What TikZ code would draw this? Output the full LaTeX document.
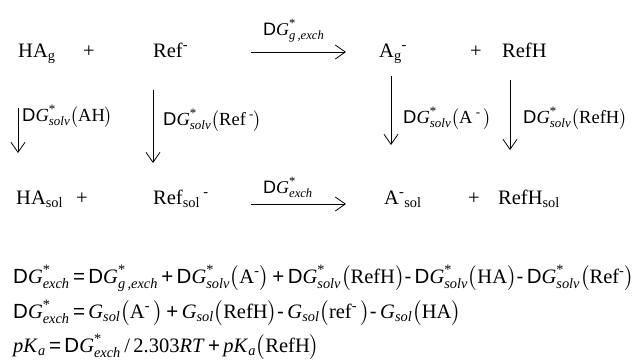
\documentclass[tikz,border=0pt]{standalone}
\usepackage{amsmath}
\usepackage{fontspec}
\setmainfont{Liberation Serif}
\setsansfont{Liberation Sans}
\usetikzlibrary{arrows.meta}
\newcommand{\Gst}[1]{\ensuremath{\textit{G}^{\text{*}}_{\text{\itshape #1}}}}
\newcommand{\dGst}[1]{\textsf{D}\Gst{#1}}
\newcommand{\Gsl}{\ensuremath{\textit{G}_{\text{\itshape sol}}}}
\newcommand{\pr}[1]{\ensuremath{\bigl(\text{#1}\bigr)}}
\newcommand{\op}[1]{\,\textsf{#1}\,}
\tikzset{
  cyc species/.style={
    anchor=base west,
    inner sep=0pt,
    font=\fontsize{20.5}{24}\selectfont
  },
  cyc plus/.style={
    anchor=base,
    inner sep=0pt,
    font=\fontsize{20.5}{24}\selectfont
  },
  cyc lbl/.style={
    anchor=west,
    inner sep=0pt,
    font=\fontsize{18.5}{22}\selectfont
  },
  cyc xlbl/.style={
    anchor=base west,
    inner sep=0pt,
    font=\fontsize{18}{22}\selectfont
  },
  cyc eqn/.style={
    anchor=base west,
    inner sep=0pt,
    font=\fontsize{20.5}{24}\selectfont
  },
  cyc arr/.style={-{Straight Barb[length=10pt,width=14pt]}, line width=0.8pt}
}

\begin{document}
\begin{tikzpicture}[x=1pt, y=-1pt]
  \useasboundingbox (0,0) rectangle (636,360);

  % gas phase
  \node[cyc species] (hag) at (18,57) {HA\textsubscript{g}};
  \node[cyc plus] (plusga) at (89,57) {+};
  \node[cyc species] (refg) at (153,57) {Ref\textsuperscript{-}};
  \node[cyc species] (ag) at (379,57) {A\textsubscript{g}\textsuperscript{-}};
  \node[cyc plus] (plusgb) at (476,57) {+};
  \node[cyc species] (refhg) at (502,57) {RefH};

  \coordinate (gxa) at (251,52);
  \coordinate (gxb) at (346,52);
  \draw[cyc arr] (gxa) -- (gxb);
  \node[cyc xlbl] (gxlbl) at (263,35) {\dGst{g\,,exch}};

  % solvation legs
  \coordinate (sva) at (18,108);
  \coordinate (svb) at (18,153);
  \draw[cyc arr] (sva) -- (svb);
  \node[cyc lbl] (svlbl) at (22,116) {\dGst{solv}\pr{AH}};

  \coordinate (rfa) at (153,90);
  \coordinate (rfb) at (153,163);
  \draw[cyc arr] (rfa) -- (rfb);
  \node[cyc lbl] (rflbl) at (163,120) {\dGst{solv}\pr{Ref\textsuperscript{ -}}};

  \coordinate (ana) at (391,76);
  \coordinate (anb) at (391,145);
  \draw[cyc arr] (ana) -- (anb);
  \node[cyc lbl] (anlbl) at (403,118) {\dGst{solv}\pr{A\textsuperscript{ -}\,}};

  \coordinate (rha) at (510,80);
  \coordinate (rhb) at (510,150);
  \draw[cyc arr] (rha) -- (rhb);
  \node[cyc lbl] (rhlbl) at (523,118) {\dGst{solv}\pr{RefH}};

  % solution phase
  \node[cyc species] (hasol) at (16,204) {HA\textsubscript{sol}};
  \node[cyc plus] (plussa) at (82,204) {+};
  \node[cyc species] (refsol) at (153,204) {Ref\textsubscript{sol}\,\textsuperscript{-}};
  \node[cyc species] (asol) at (384,204) {A\textsuperscript{-}\textsubscript{sol}};
  \node[cyc plus] (plussb) at (474,204) {+};
  \node[cyc species] (refhsol) at (498,204) {RefH\textsubscript{sol}};

  \coordinate (sxa) at (251,204);
  \coordinate (sxb) at (346,204);
  \draw[cyc arr] (sxa) -- (sxb);
  \node[cyc xlbl] (sxlbl) at (263,193) {\dGst{exch}};

  % exchange relations
  \node[cyc eqn] (eqa) at (13,283)
    {\dGst{exch}\op{=}\dGst{g\,,exch}\op{+}\dGst{solv}\pr{A\textsuperscript{-}}\op{+}\dGst{solv}\pr{RefH}\textsf{-}\,\dGst{solv}\pr{HA}\textsf{-}\,\dGst{solv}\pr{Ref\textsuperscript{-}}};
  \node[cyc eqn] (eqb) at (13,318)
    {\dGst{exch}\op{=}\Gsl\pr{A\textsuperscript{-}\,}\op{+}\Gsl\pr{RefH}\textsf{-}\,\Gsl\pr{ref\textsuperscript{-}\,}\textsf{-}\,\Gsl\pr{HA}};
  \node[cyc eqn] (eqc) at (13,352)
    {\textit{pK}\ensuremath{_{\text{\itshape a}}}\op{=}\dGst{exch}\,/\,2.303\textit{RT}\op{+}\textit{pK}\ensuremath{_{\text{\itshape a}}}\pr{RefH}};
\end{tikzpicture}
\end{document}
